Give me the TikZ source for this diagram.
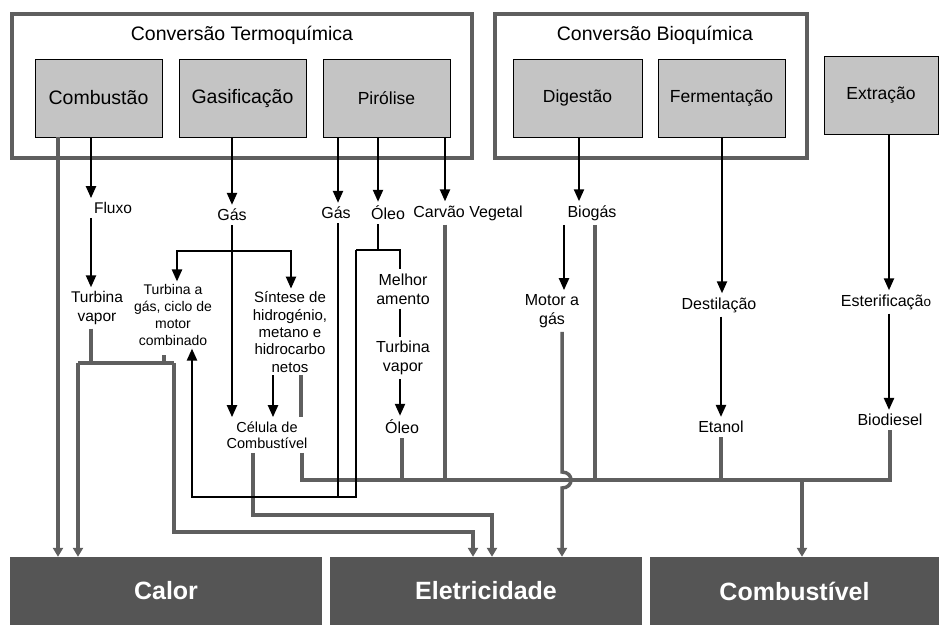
\documentclass[tikz,border=0pt]{standalone}
\usepackage{fontspec}
\setmainfont{Liberation Sans}
\usetikzlibrary{arrows.meta}

\definecolor{linegray}{RGB}{95,95,95}
\definecolor{boxgray}{RGB}{196,196,196}
\definecolor{darkbox}{RGB}{85,85,85}

\tikzset{
  grupo/.style={draw=linegray, line width=4pt, inner sep=0pt},
  proc/.style={draw=black, fill=boxgray, line width=0.8pt, inner sep=0pt, minimum height=78pt},
  saida/.style={fill=darkbox, inner sep=0pt, minimum height=68pt, text=white, font=\fontsize{25}{30}\selectfont\bfseries},
  lbl/.style={inner sep=4pt, align=center, font=\fontsize{16}{19}\selectfont},
  blk/.style={draw=black, line width=2.2pt},
  blkarr/.style={blk, -{Triangle[length=12pt,width=10pt]}},
  gry/.style={draw=linegray, line width=3.5pt},
  gryarr/.style={gry, -{Triangle[length=9pt,width=10pt]}}
}

\begin{document}
\begin{tikzpicture}[x=1pt,y=1pt,yscale=-1]
\useasboundingbox (0,0) rectangle (939,625);

% group frames
\node[grupo, minimum width=460pt, minimum height=144pt] (termo) at (242,86) {};
\node[grupo, minimum width=312pt, minimum height=144pt] (bio) at (651,86) {};
\node[font=\fontsize{19.5}{23}\selectfont] (termoT) at (242,35) {Conversão Termoquímica};
\node[font=\fontsize{19.5}{23}\selectfont] (bioT) at (655,35) {Conversão Bioquímica};

% process boxes
\node[proc, minimum width=127pt, font=\fontsize{19.5}{23}\selectfont] (comb) at (98.5,98) {Combustão};
\node[proc, minimum width=127pt, font=\fontsize{19.5}{23}\selectfont] (gasif) at (242.5,98) {Gasificação};
\node[proc, minimum width=127pt, font=\fontsize{17.5}{21}\selectfont] (piro) at (386.5,98) {Pirólise};
\node[proc, minimum width=129pt, font=\fontsize{17.5}{21}\selectfont] (dig) at (577.5,98) {Digestão};
\node[proc, minimum width=127pt, font=\fontsize{17.5}{21}\selectfont] (ferm) at (721.5,98) {Fermentação};
\node[proc, minimum width=114pt, font=\fontsize{17.5}{21}\selectfont] (extr) at (881,95) {Extração};

% end uses
\node[saida, minimum width=312pt] (calor) at (166,591) {Calor};
\node[saida, minimum width=312pt] (elet) at (486,591) {Eletricidade};
\node[saida, minimum width=289pt] (combu) at (794.5,591) {Combustível};

% intermediate labels
\node[lbl, font=\fontsize{15.5}{18.5}\selectfont] (fluxo) at (113,208) {Fluxo};
\node[lbl, font=\fontsize{15.5}{18.5}\selectfont] (tvap1) at (97,308) {Turbina\\vapor};
\node[lbl] (gas1) at (232,215) {Gás};
\node[lbl, inner sep=3pt, font=\fontsize{14}{16.8}\selectfont] (tgas) at (173,315) {Turbina  a\\gás, ciclo de\\motor\\combinado};
\node[lbl, inner sep=3pt, font=\fontsize{15}{17.3}\selectfont] (sint) at (290,332) {Síntese de\\hidrogénio,\\metano e\\hidrocarbo\\netos};
\node[lbl, font=\fontsize{14.5}{16.5}\selectfont] (celula) at (267,435) {Célula de\\Combustível};
\node[lbl] (gas2) at (336,213) {Gás};
\node[lbl] (oleo1) at (388,213) {Óleo};
\node[lbl] (carvao) at (468,213) {Carvão Vegetal};
\node[lbl] (melh) at (403,289) {Melhor\\amento};
\node[lbl] (tvap2) at (403,358) {Turbina\\vapor};
\node[lbl] (oleo2) at (402,427) {Óleo};
\node[lbl] (biogas) at (592,213) {Biogás};
\node[lbl] (motor) at (552,311) {Motor a\\gás};
\node[lbl] (destil) at (719,305) {Destilação};
\node[lbl] (etanol) at (721,427) {Etanol};
\node[lbl] (ester) at (886,302) {Esterificaçã{\fontsize{13.5}{16}\selectfont o}};
\node[lbl] (biod) at (890,420) {Biodiesel};

% bend points
\coordinate (gbr) at (232,251);
\coordinate (loopR) at (338,497);
\coordinate (loopL) at (192,497);
\coordinate (oleoT) at (378,250);
\coordinate (oleoL) at (356,250);
\coordinate (oleoR) at (400,250);
\coordinate (tvJ) at (91,363);
\coordinate (tvL) at (78,363);
\coordinate (tvR) at (174,363);
\coordinate (tgS) at (164,355);
\coordinate (eA) at (174,532);
\coordinate (eAx) at (473,532);
\coordinate (ceA) at (253,515);
\coordinate (ceB) at (492,515);
\coordinate (busL) at (302,480);
\coordinate (busR) at (890,480);
\coordinate (busC) at (802,480);
\coordinate (hopA) at (562,472);
\coordinate (hopB) at (562,488);

% gray flows
\draw[gryarr] (comb.south -| 58,0) -- (calor.north -| 58,0);
\draw[gry] (tvap1.south -| tvJ) -- (tvJ);
\draw[gry] (tvL) -- (tvR);
\draw[gry] (tgS) -- (tgS |- tvR);
\draw[gryarr] (tvL) -- (calor.north -| tvL);
\draw[gryarr] (tvR) -- (eA) -- (eAx) -- (elet.north -| eAx);
\draw[gryarr] (celula.south -| ceA) -- (ceA) -- (ceB) -- (elet.north -| ceB);
\draw[gry] (sint.south -| 301,0) -- (celula.north -| 301,0);
\draw[gry] (celula.south -| busL) -- (busL) -- (busR) -- (biod.south -| busR);
\draw[gry] (oleo2.south) -- (oleo2.south |- busL);
\draw[gry] (carvao.south -| 445,0) -- (445,480);
\draw[gry] (biogas.south -| 595,0) -- (595,480);
\draw[gry] (etanol.south -| 721,0) -- (721,480);
\draw[gryarr] (busC) -- (combu.north -| busC);
\draw[gryarr] (motor.south -| hopA) -- (hopA) .. controls (574,472) and (574,488) .. (hopB) -- (elet.north -| hopB);

% black flows
\draw[blkarr] (comb.south -| 91,0) -- (fluxo.north -| 91,0);
\draw[blkarr] (fluxo.south -| 91,0) -- (tvap1.north -| 91,0);
\draw[blkarr] (gasif.south -| gas1) -- (gas1.north);
\draw[blkarr] (gas1.south) -- (celula.north -| gas1);
\draw[blkarr] (gbr) -| (tgas.north -| 177,0);
\draw[blkarr] (gbr) -| (sint.north -| 291,0);
\draw[blkarr] (sint.south -| 273,0) -- (celula.north -| 273,0);
\draw[blkarr] (piro.south -| 338,0) -- (gas2.north -| 338,0);
\draw[blkarr] (piro.south -| oleoT) -- (oleo1.north -| oleoT);
\draw[blkarr] (piro.south -| 445,0) -- (carvao.north -| 445,0);
\draw[blk] (gas2.south -| loopR) -- (loopR);
\draw[blkarr] (oleoL) -- (oleoL |- loopR) -- (loopL) -- (tgas.south -| loopL);
\draw[blk] (oleo1.south -| oleoT) -- (oleoT);
\draw[blk] (oleoL) -- (oleoR) -- (melh.north -| oleoR);
\draw[blk] (melh.south -| oleoR) -- (tvap2.north -| oleoR);
\draw[blkarr] (tvap2.south -| oleoR) -- (oleo2.north -| oleoR);
\draw[blkarr] (dig.south -| 579,0) -- (biogas.north -| 579,0);
\draw[blkarr] (biogas.south -| 564,0) -- (motor.north -| 564,0);
\draw[blkarr] (ferm.south -| 722,0) -- (destil.north -| 722,0);
\draw[blkarr] (destil.south -| 721,0) -- (etanol.north -| 721,0);
\draw[blkarr] (extr.south -| 889,0) -- (ester.north -| 889,0);
\draw[blkarr] (ester.south -| 889,0) -- (biod.north -| 889,0);
\end{tikzpicture}
\end{document}
